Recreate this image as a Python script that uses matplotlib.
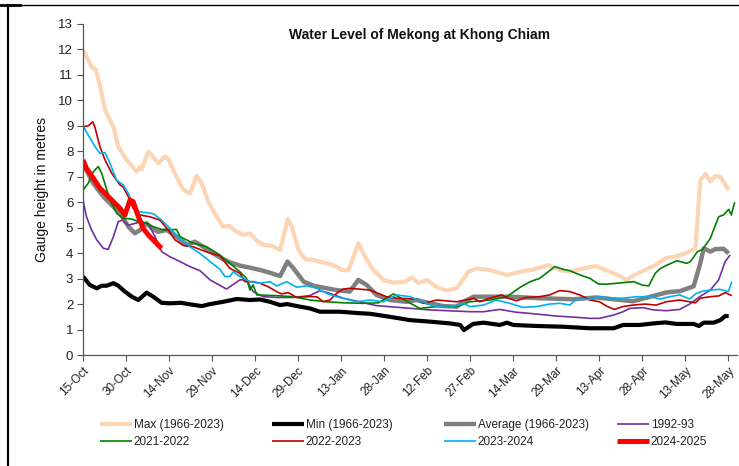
import matplotlib
matplotlib.use("Agg")
import matplotlib.pyplot as plt
from matplotlib.lines import Line2D

# ---------------- data (x = days after 15-Oct) ----------------
tick_labels = ["15-Oct", "30-Oct", "14-Nov", "29-Nov", "14-Dec", "29-Dec", "13-Jan", "28-Jan",
               "12-Feb", "27-Feb", "14-Mar", "29-Mar", "13-Apr", "28-Apr", "13-May", "28-May"]
tick_days = [0, 15, 30, 45, 60, 75, 90, 105, 120, 135, 150, 165, 180, 195, 210, 225]

max_days = [0, 3, 4.5, 6, 7.7, 9.4, 10.6, 12.3, 15.2, 18.7, 19.9, 20.4, 22.8, 24, 26.2, 28.6, 29.7, 32.6, 35,
            37.3, 39.6, 41.4, 43.7, 46.6, 48.9, 51.2, 53, 55.9, 58.2, 60.6, 62.9, 65.8, 68.7, 71.4, 72.8, 75.1,
            77.4, 80.3, 83.8, 87.3, 90.2, 92.5, 96, 98.3, 101.2, 104.7, 108.2, 112.3, 114.6, 117, 119.9, 123.4,
            126.9, 130.3, 134.4, 137.3, 141.8, 147.8, 152.4, 157, 162.3, 166.2, 169.7, 174.3, 179, 183.6, 186.5,
            189.4, 192.9, 195.8, 199.5, 203, 206.5, 210, 213.5, 215.2, 217, 218.7, 220.4, 222.2, 225.1]
max_vals = [12.0, 11.32, 11.2, 10.54, 9.62, 9.23, 8.97, 8.18, 7.66, 7.2, 7.4, 7.3, 7.98, 7.85, 7.53, 7.79, 7.7,
            7.0, 6.48, 6.35, 7.03, 6.74, 6.02, 5.43, 5.04, 5.07, 4.88, 4.71, 4.78, 4.49, 4.32, 4.29, 4.12, 5.33,
            5.04, 4.12, 3.76, 3.73, 3.63, 3.53, 3.34, 3.32, 4.39, 3.86, 3.34, 2.95, 2.84, 2.88, 3.05, 2.82, 2.95,
            2.66, 2.53, 2.62, 3.27, 3.4, 3.34, 3.14, 3.27, 3.36, 3.53, 3.34, 3.27, 3.40, 3.49, 3.27, 3.14, 2.95,
            3.18, 3.34, 3.53, 3.80, 3.86, 3.99, 4.19, 6.87, 7.11, 6.81, 7.03, 7.0, 6.48]

min_days = [0, 2.4, 4.8, 6.5, 8.2, 10.6, 12.3, 14.6, 17, 19.3, 22.2, 24.5, 27.4, 30.3, 34.2, 37.3, 41.4, 44.3,
            48.9, 53.6, 58.2, 61.7, 65.2, 68.7, 71, 75.6, 79.1, 82.6, 89.6, 96.6, 100, 107, 114, 121, 128, 131.5,
            132.8, 136, 139.6, 145.3, 147.8, 150, 158, 167.5, 176.7, 180.1, 185, 188.3, 194.1, 198.8, 203, 207,
            212.9, 214.7, 216.4, 219.9, 222.2, 223.9, 225.1]
min_vals = [3.08, 2.75, 2.62, 2.72, 2.72, 2.82, 2.72, 2.49, 2.29, 2.16, 2.45, 2.29, 2.05, 2.03, 2.05, 1.99, 1.92,
            2.0, 2.09, 2.2, 2.16, 2.18, 2.09, 1.96, 2.0, 1.9, 1.83, 1.70, 1.70, 1.64, 1.62, 1.50, 1.37, 1.31, 1.24,
            1.18, 0.98, 1.22, 1.27, 1.18, 1.27, 1.18, 1.14, 1.11, 1.05, 1.05, 1.05, 1.18, 1.18, 1.24, 1.28, 1.22,
            1.22, 1.14, 1.27, 1.27, 1.37, 1.53, 1.53]

avg_days = [0, 3.6, 7.1, 9.4, 12.9, 15.8, 18.1, 19.9, 22.2, 24, 26.2, 29.2, 32.6, 36.2, 39, 42, 45.4, 48.9, 51.2,
            54.7, 58.2, 61.7, 65.2, 68.7, 71.3, 73.4, 76.9, 80.4, 85, 88.4, 93, 96, 98.9, 102.3, 107, 112.8, 116.3,
            121, 125.7, 130.3, 132.7, 136.2, 142, 148.8, 159.2, 171, 179, 184.8, 191.8, 197.8, 203.6, 208.2,
            212.9, 215.2, 216.4, 218.7, 220.4, 223.3, 225.1]
avg_vals = [7.5, 6.74, 6.22, 5.96, 5.57, 5.04, 4.78, 4.91, 5.17, 4.97, 4.84, 4.91, 4.65, 4.32, 4.45, 4.25, 3.99,
            3.76, 3.64, 3.51, 3.43, 3.34, 3.23, 3.10, 3.67, 3.40, 2.88, 2.72, 2.62, 2.55, 2.49, 2.95, 2.75, 2.36,
            2.16, 2.09, 2.16, 2.03, 1.92, 1.90, 2.09, 2.29, 2.29, 2.29, 2.23, 2.19, 2.26, 2.19, 2.11, 2.29, 2.46,
            2.51, 2.70, 3.60, 4.19, 4.06, 4.16, 4.17, 3.99]

y9293_days = [0, 1.2, 3, 4.8, 7.1, 8.8, 10.6, 12.3, 13.8, 15.8, 17.5, 20.5, 22.8, 25.1, 27.4, 30.3, 33.8, 37.3,
              40.8, 44.3, 50, 54.7, 57, 59.3, 62.8, 67.5, 73.3, 79.1, 82.6, 86.1, 90.7, 102.3, 121, 135, 139.6,
              145.3, 151, 158, 165, 172, 176.7, 180.1, 185, 188.3, 190.6, 195.3, 198.8, 203.4, 208, 211.5, 215,
              218.7, 221.6, 223.9, 225.6]
y9293_vals = [6.09, 5.43, 4.91, 4.52, 4.19, 4.15, 4.65, 5.24, 5.3, 5.1, 5.15, 5.24, 5.15, 4.65, 4.06, 3.86, 3.67,
              3.47, 3.31, 2.95, 2.59, 2.95, 2.95, 2.49, 2.29, 2.26, 2.26, 2.33, 2.53, 2.42, 2.23, 1.94, 1.77, 1.70,
              1.70, 1.79, 1.68, 1.61, 1.53, 1.48, 1.44, 1.44, 1.57, 1.70, 1.83, 1.86, 1.77, 1.74, 1.79, 2.0, 2.29,
              2.55, 2.95, 3.67, 3.93]

y2122_days = [0, 1.8, 3.6, 5.3, 6.5, 8.3, 10, 11.7, 14, 17, 19.3, 22.2, 24.5, 28, 32.6, 33.8, 38.4, 43.1, 47.7,
              51.2, 54.7, 57, 58.2, 59.3, 60.6, 67.5, 73.3, 79.1, 85, 90.7, 97.7, 103, 108.2, 117.4, 123.2, 130.3,
              134.8, 142, 147.8, 152.4, 155.9, 159.2, 164.5, 167.5, 169.7, 173.4, 176.7, 179.7, 182.5, 186.2, 192,
              194.9, 197.2, 199.5, 201.3, 203.6, 207, 210.5, 211.7, 214.2, 216, 218.7, 221.6, 223.3, 225.1, 226,
              227.2]
y2122_vals = [6.48, 6.74, 7.2, 7.4, 7.14, 6.48, 5.96, 5.57, 5.37, 5.34, 5.24, 5.17, 5.04, 4.91, 4.93, 4.65, 4.39,
              4.25, 3.93, 3.60, 3.27, 3.01, 2.55, 2.75, 2.36, 2.33, 2.29, 2.16, 2.09, 2.05, 2.03, 2.05, 2.40, 1.83,
              1.90, 1.90, 2.09, 2.16, 2.29, 2.66, 2.88, 3.01, 3.47, 3.36, 3.31, 3.14, 3.01, 2.79, 2.78, 2.82, 2.88,
              2.75, 2.71, 3.21, 3.40, 3.53, 3.70, 3.60, 3.66, 4.06, 4.15, 4.58, 5.43, 5.5, 5.72, 5.5, 6.0]

y2223_days = [0, 1.8, 3.4, 4.1, 5.9, 7.7, 10, 12.9, 14, 15.8, 17.5, 19.9, 23.3, 26.8, 29.7, 32.1, 35, 38.4, 41.4,
              44.3, 47.7, 51.2, 54.7, 56.4, 59.3, 61.7, 64.6, 67.5, 69.2, 71.6, 74.5, 78, 81.5, 83.8, 86.1, 88.4,
              90.7, 93, 100, 105.8, 109.3, 116.3, 118.7, 123.4, 130.3, 136.2, 138.3, 141.8, 145.9, 148.2, 151.1,
              154.6, 159.2, 162.7, 166.2, 169.7, 173.2, 176.7, 180.1, 182.5, 185.2, 188.1, 191.6, 195.8, 199.8,
              203.3, 208, 211.5, 213.5, 215.2, 218.7, 221.6, 223.9, 226.2]
y2223_vals = [8.97, 9.0, 9.16, 8.97, 8.18, 7.66, 7.14, 6.68, 6.6, 6.22, 5.76, 5.5, 5.43, 5.30, 4.91, 4.52, 4.30,
              4.25, 4.12, 4.0, 3.90, 3.40, 3.21, 2.88, 2.88, 2.82, 2.68, 2.49, 2.40, 2.45, 2.26, 2.29, 2.29, 2.09,
              2.16, 2.42, 2.59, 2.62, 2.55, 2.29, 2.23, 2.20, 2.03, 2.16, 2.09, 2.23, 2.09, 2.23, 2.36, 2.23, 2.13,
              2.26, 2.29, 2.36, 2.53, 2.49, 2.36, 2.16, 2.09, 1.92, 1.79, 1.90, 1.96, 2.0, 1.96, 2.09, 2.16, 2.09,
              2.05, 2.23, 2.29, 2.32, 2.45, 2.33]

y2324_days = [0, 1.8, 4.2, 5.9, 7.7, 9.4, 11.7, 14, 15.8, 17.5, 19.3, 22.2, 24.5, 27.4, 30.3, 33.8, 37.3, 40.8,
              44.3, 47.7, 49.5, 51.2, 52.4, 54.7, 58.2, 61.7, 65.2, 67.5, 71, 74.5, 77.9, 81.5, 85, 88.4, 93, 95.3,
              100, 104.7, 109.3, 114, 117.4, 123.2, 128, 132.7, 134.8, 139.6, 144.1, 148.8, 153.4, 158, 162.7,
              166.2, 169.7, 172, 176.7, 180.1, 184.8, 188.1, 193, 197.6, 201.1, 204.6, 208, 211.5, 213.8, 216.1,
              218.5, 222, 225, 226.2]
y2324_vals = [9.0, 8.64, 8.18, 7.92, 7.95, 7.53, 6.87, 6.68, 6.35, 5.89, 5.63, 5.59, 5.55, 5.30, 4.97, 4.58, 4.25,
              3.99, 3.67, 3.37, 3.08, 3.08, 3.27, 3.08, 2.88, 2.82, 2.88, 2.71, 2.88, 2.66, 2.72, 2.62, 2.42, 2.29,
              2.16, 2.09, 2.16, 2.09, 2.36, 2.29, 2.13, 1.90, 1.87, 2.03, 1.90, 1.96, 2.16, 2.03, 1.87, 1.90, 2.0,
              2.03, 1.96, 2.19, 2.19, 2.29, 2.23, 2.23, 2.29, 2.29, 2.20, 2.29, 2.36, 2.20, 2.42, 2.51, 2.55, 2.58,
              2.49, 2.88]

y2425_days = [0, 1.2, 3.6, 5.9, 8.3, 10.6, 12.9, 14.6, 16.4, 17.5, 19.3, 21, 22.8, 25.1, 26.8, 27.4]
y2425_vals = [7.66, 7.33, 6.94, 6.55, 6.28, 6.02, 5.76, 5.50, 6.09, 6.02, 5.43, 4.97, 4.71, 4.45, 4.25, 4.19]

series_names = ["Max (1966-2023)", "Min (1966-2023)", "Average (1966-2023)", "1992-93",
                "2021-2022", "2022-2023", "2023-2024", "2024-2025"]

# ---------------- figure ----------------
FONT = ["Liberation Sans", "DejaVu Sans"]
plt.rcParams["font.family"] = FONT

W, H = 739, 466
fig = plt.figure(figsize=(W / 100, H / 100), dpi=100)
ax = fig.add_axes([83 / W, 1 - 355 / H, (737 - 83) / W, (355 - 24) / H])

styles = [
    (max_days, max_vals, "#FCD5B4", 3.0),
    (min_days, min_vals, "#000000", 3.0),
    (avg_days, avg_vals, "#808080", 3.2),
    (y9293_days, y9293_vals, "#7030A0", 1.2),
    (y2122_days, y2122_vals, "#008000", 1.2),
    (y2223_days, y2223_vals, "#C00000", 1.2),
    (y2324_days, y2324_vals, "#00B0F0", 1.2),
    (y2425_days, y2425_vals, "#FF0000", 3.6),
]
handles = []
for (d, v, c, lw), name in zip(styles, series_names):
    ln, = ax.plot(d, v, color=c, lw=lw, solid_joinstyle="round", solid_capstyle="butt", label=name)
    handles.append(ln)

ax.set_xlim(0, 228)
ax.set_ylim(0, 13)
ax.set_yticks(range(0, 14))
ax.set_xticks(tick_days)
ax.set_xticklabels(tick_labels, rotation=45, ha="right", va="top", rotation_mode="anchor",
                   fontsize=8.5, color="#222222")
ax.tick_params(axis="y", labelsize=9.5, labelcolor="#222222", direction="out", length=4, width=0.8,
               color="#555555", pad=3)
ax.tick_params(axis="x", direction="out", length=4, width=0.8, color="#555555", pad=3)
for s in ["top", "right"]:
    ax.spines[s].set_visible(False)
for s in ["left", "bottom"]:
    ax.spines[s].set_color("#555555")
    ax.spines[s].set_linewidth(0.9)

ax.set_ylabel("Gauge height in metres", fontsize=10, color="#111111", labelpad=7)
fig.text(419.5 / W, 1 - 35 / H, "Water Level of Mekong at Khong Chiam", ha="center", va="center",
         fontsize=10, fontweight="bold", color="#111111")

# legend: 4 evenly spaced columns, filled row by row
col_x = [100, 272, 444, 617]
for ci, x0 in enumerate(col_x):
    hs = [handles[ci], handles[ci + 4]]
    leg = fig.legend(handles=hs, loc="upper left", bbox_to_anchor=(x0 / W, 1 - 419 / H), ncol=1,
                     frameon=False, prop={"size": 8.5}, handlelength=2.7, handletextpad=0.15,
                     labelspacing=0.45, borderaxespad=0, borderpad=0)
    for t in leg.get_texts():
        t.set_color("#222222")

# outer frame lines
fig.add_artist(Line2D([7.5 / W, 7.5 / W], [0, 1 - 4.5 / H], color="black", lw=1.6, transform=fig.transFigure))
fig.add_artist(Line2D([7 / W, 1], [1 - 4.5 / H, 1 - 4.5 / H], color="black", lw=1.0, transform=fig.transFigure))
fig.add_artist(Line2D([0, 20 / W], [1 - 4.5 / H, 1 - 4.5 / H], color="black", lw=2.0, transform=fig.transFigure))

fig.savefig("out.png", dpi=100)
